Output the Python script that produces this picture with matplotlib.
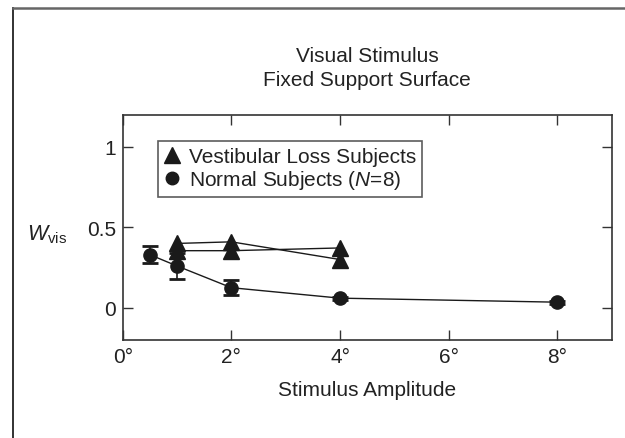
import matplotlib
matplotlib.use("Agg")
import matplotlib.pyplot as plt
from matplotlib.lines import Line2D

plt.rcParams['font.family'] = ['Liberation Sans', 'DejaVu Sans']
plt.rcParams['mathtext.fontset'] = 'custom'
plt.rcParams['mathtext.rm'] = 'Liberation Sans'
plt.rcParams['mathtext.it'] = 'Liberation Sans:italic'

# Data
normal_x = [0.5, 1, 2, 4, 8]
normal_y = [0.33, 0.26, 0.125, 0.06, 0.035]
normal_err = [0.053, 0.08, 0.047, 0.01, 0.01]

vest_x = [1, 2, 4]
vest_a = [0.40, 0.41, 0.30]
vest_b = [0.355, 0.355, 0.372]

xticks = [0, 2, 4, 6, 8]
xticklabels = ['0°', '2°', '4°', '6°', '8°']
yticks = [0, 0.5, 1]
yticklabels = ['0', '0.5', '1']

W, H = 625, 439
fig = plt.figure(figsize=(6.25, 4.39), dpi=100)
ax = fig.add_axes([122.7 / W, 1 - 341 / H, (611.7 - 122.7) / W, (341 - 115.7) / H])

dark = '#1a1a1a'
ax.errorbar(normal_x, normal_y, yerr=normal_err, fmt='o', color=dark, ms=9.5,
            capsize=5.5, capthick=2.0, elinewidth=1.2, linestyle='-', lw=1.0, zorder=3)
ax.plot(vest_x, vest_a, '^', color=dark, ms=11, linestyle='-', lw=1.0, zorder=3)
ax.plot(vest_x, vest_b, '^', color=dark, ms=11, linestyle='-', lw=1.0, zorder=3)

ax.set_xlim(0, 9)
ax.set_ylim(-0.2, 1.2)
ax.set_xticks(xticks)
ax.set_xticklabels(xticklabels)
ax.set_yticks(yticks)
ax.set_yticklabels(yticklabels)
ax.tick_params(direction='in', length=7.5, width=1.0, top=True, right=True,
               labelsize=15, colors='#333333', labelcolor='#222222', pad=5)
for s in ax.spines.values():
    s.set_color('#333333')
    s.set_linewidth(1.2)

ax.set_xlabel('Stimulus Amplitude', fontsize=15, color='#222222', labelpad=10)

handles = [Line2D([], [], marker='^', color=dark, linestyle='none', ms=11),
           Line2D([], [], marker='o', color=dark, linestyle='none', ms=9)]
labels = ['Vestibular Loss Subjects', r'Normal Subjects ($\mathit{N}$=8)']
leg = ax.legend(handles, labels, loc='upper left', bbox_to_anchor=(0.073, 0.885),
                borderaxespad=0, fontsize=15, frameon=True, fancybox=False,
                handlelength=0.7, handletextpad=0.45, borderpad=0.3, labelspacing=0.1)
leg.get_frame().set_edgecolor('#333333')
leg.get_frame().set_linewidth(1.2)
for t in leg.get_texts():
    t.set_color('#222222')

fig.text(47 / W, 1 - 235 / H, r'$\mathit{W}_{\mathrm{vis}}$', fontsize=15.5,
         ha='center', va='center', color='#222222')

fig.text(367 / W, 1 - 57 / H, 'Visual Stimulus', fontsize=15, ha='center', va='center', color='#222222')
fig.text(367 / W, 1 - 81 / H, 'Fixed Support Surface', fontsize=15, ha='center', va='center', color='#222222')

# outer frame
fig.add_artist(Line2D([12.5 / W, 12.5 / W], [0, 1 - 9 / H], transform=fig.transFigure,
                      color='#222222', lw=1.3))
fig.add_artist(Line2D([12.5 / W, 1], [1 - 9 / H, 1 - 9 / H], transform=fig.transFigure,
                      color='#666666', lw=1.8))

fig.savefig('out.png', dpi=100)
